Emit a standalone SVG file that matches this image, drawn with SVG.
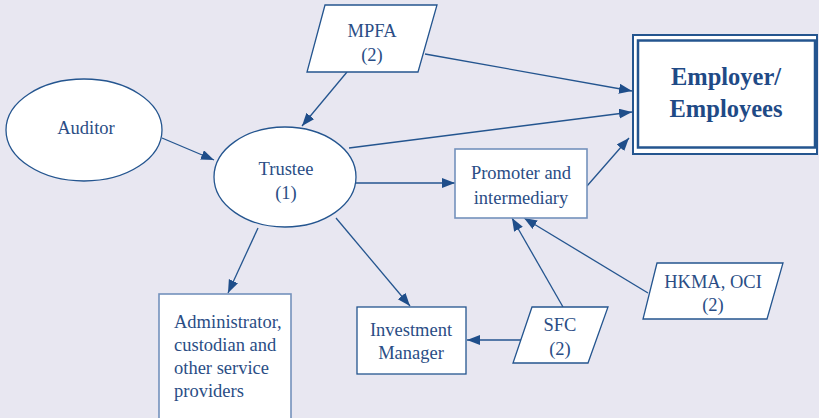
<svg xmlns="http://www.w3.org/2000/svg" width="819" height="418" viewBox="0 0 819 418">
<defs>
<style>
.bg{fill:#E8E7F1}
.n{fill:#fff;stroke:#24558F;stroke-width:1.3}
.lt{fill:#fff;stroke:#7391BC;stroke-width:1.6}
.t{font-family:"Liberation Serif","DejaVu Serif",serif;font-size:18.5px;fill:#2A4D85;text-anchor:middle}
.tl{text-anchor:start}
.b{font-weight:bold;font-size:24.5px;fill:#1F4A86}
.c line{stroke:#24558F;stroke-width:1.3;marker-end:url(#ah)}
</style>
<marker id="ah" markerUnits="userSpaceOnUse" markerWidth="14" markerHeight="12" refX="13" refY="5" orient="auto">
<path d="M0,0 L13,5 L0,10 Z" fill="#1F4E8A"/>
</marker>
</defs>
<rect class="bg" x="0" y="0" width="819" height="418"/>
<g class="c" id="connectors">
<line x1="162" y1="138" x2="214" y2="160"/>
<line x1="347" y1="72" x2="302" y2="126"/>
<line x1="425" y1="54" x2="632" y2="91"/>
<line x1="349" y1="148" x2="632" y2="112"/>
<line x1="587" y1="186" x2="629" y2="138"/>
<line x1="356" y1="183" x2="455" y2="183"/>
<line x1="258" y1="228" x2="228" y2="293"/>
<line x1="336" y1="218" x2="410" y2="306"/>
<line x1="522" y1="340" x2="467" y2="340"/>
<line x1="563" y1="307" x2="512" y2="218"/>
<line x1="648" y1="293" x2="524" y2="218"/>
</g>
<g id="mpfa">
<polygon class="n" points="325,5 437,5 418,72 307,72"/>
<text class="t" x="372" y="37">MPFA</text>
<text class="t" x="372" y="61">(2)</text>
</g>
<g id="employer">
<rect x="633" y="35" width="184" height="119" fill="#fff" stroke="#24558F" stroke-width="2"/>
<rect x="638" y="40.5" width="177" height="107" fill="none" stroke="#24558F" stroke-width="2.5"/>
<text class="t b" x="726" y="85">Employer/</text>
<text class="t b" x="726" y="117">Employees</text>
</g>
<g id="auditor">
<ellipse class="n" cx="84" cy="130" rx="78" ry="51"/>
<text class="t" x="86" y="134">Auditor</text>
</g>
<g id="trustee">
<ellipse class="n" cx="285" cy="177" rx="71" ry="50"/>
<text class="t" x="286" y="175">Trustee</text>
<text class="t" x="286" y="199">(1)</text>
</g>
<g id="promoter">
<rect class="lt" x="455" y="149" width="132" height="69"/>
<text class="t" x="521" y="179">Promoter and</text>
<text class="t" x="521" y="204">intermediary</text>
</g>
<g id="administrator">
<rect class="lt" x="159" y="294" width="132" height="126"/>
<text class="t tl" x="174" y="328">Administrator,</text>
<text class="t tl" x="174" y="351">custodian and</text>
<text class="t tl" x="174" y="374">other service</text>
<text class="t tl" x="174" y="397">providers</text>
</g>
<g id="investment">
<rect class="n" x="357" y="307" width="109" height="67"/>
<text class="t" x="411" y="336">Investment</text>
<text class="t" x="411" y="359">Manager</text>
</g>
<g id="sfc">
<polygon class="n" points="532,307 608,307 588,363 513,363"/>
<text class="t" x="560" y="331">SFC</text>
<text class="t" x="560" y="355">(2)</text>
</g>
<g id="hkma">
<polygon class="n" points="657,263 783,263 767,319 643,319"/>
<text class="t" x="713" y="288">HKMA, OCI</text>
<text class="t" x="713" y="311">(2)</text>
</g>
</svg>
